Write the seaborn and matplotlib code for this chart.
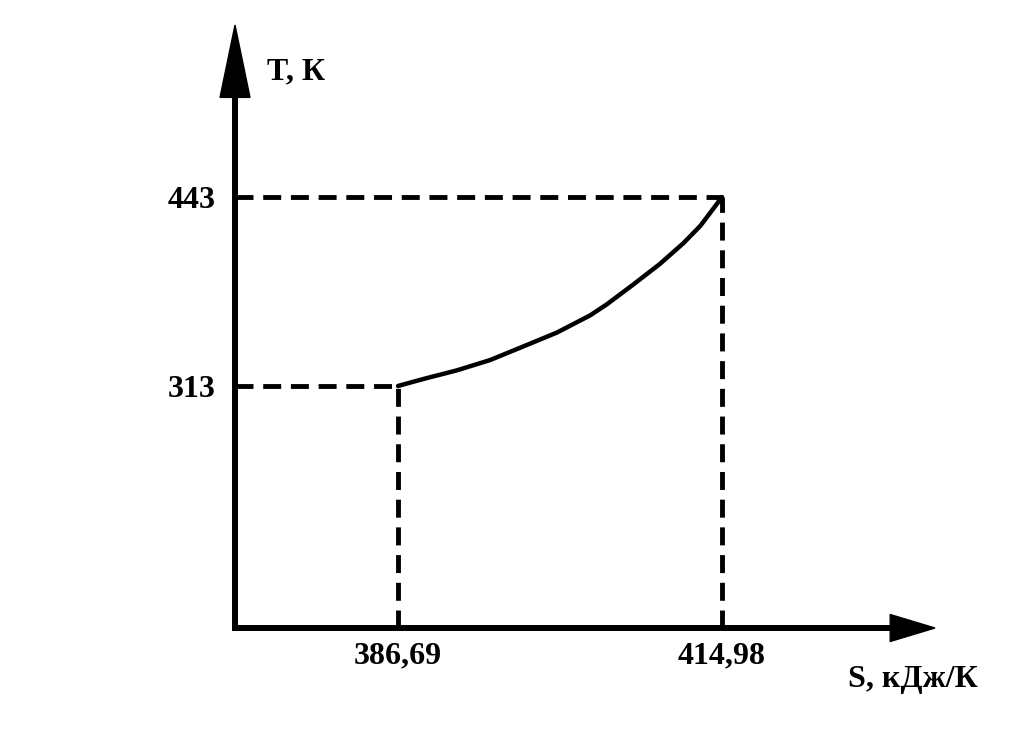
import matplotlib
matplotlib.use("Agg")
import matplotlib.pyplot as plt
import pandas as pd
import seaborn as sns

# process curve T(S)
s_values = [386.69, 388.90, 391.81, 394.72, 397.63, 400.55, 403.45,
            404.91, 407.23, 409.56, 411.60, 413.08, 414.22, 414.98]
t_values = [313.0, 317.8, 323.7, 330.8, 340.2, 349.7, 361.5,
            369.1, 382.8, 397.0, 411.2, 423.1, 435.0, 443.0]

x_ticks = [386.69, 414.98]
x_tick_labels = ["386,69", "414,98"]
y_ticks = [313, 443]
y_tick_labels = ["313", "443"]

x_label = "S, кДж/К"
y_label = "T, К"

sns.set_theme(style="white")
plt.rcParams["font.family"] = ["Liberation Serif", "DejaVu Serif"]
plt.rcParams["font.weight"] = "bold"
plt.rcParams["text.color"] = "black"

fig = plt.figure(figsize=(10.13, 7.34), dpi=100)
ax = fig.add_axes([0.2320, 0.1444, 0.6910, 0.8215])
ax.set_xlim(372.46, 433.57)
ax.set_ylim(146.5, 561.3)

df = pd.DataFrame({"S": s_values, "T": t_values})
sns.lineplot(data=df, x="S", y="T", ax=ax, color="black", linewidth=3.2,
             sort=False, estimator=None)

# dashed projections onto the axes
x0, y0 = ax.get_xlim()[0], ax.get_ylim()[0]
for sx, ty in zip(x_ticks, y_ticks):
    ax.plot([x0, sx], [ty, ty], color="black", lw=3.5, dashes=(3.7, 2.0))
    ax.plot([sx, sx], [y0, ty], color="black", lw=3.5, dashes=(3.7, 2.0))

# axes with arrow heads
for sp in ax.spines.values():
    sp.set_visible(False)
ax.plot([0, 0], [0, 0.885], transform=ax.transAxes, color="black", lw=4.3,
        clip_on=False, solid_capstyle="projecting")
ax.plot([0, 0.94], [0, 0], transform=ax.transAxes, color="black", lw=4.3,
        clip_on=False, solid_capstyle="projecting")
ax.fill([-0.0214, 0.0214, 0.0], [0.880, 0.880, 1.0], color="black",
        transform=ax.transAxes, clip_on=False)
ax.fill([0.936, 0.936, 1.0], [-0.0224, 0.0224, 0.0], color="black",
        transform=ax.transAxes, clip_on=False)

ax.set_xticks(x_ticks)
ax.set_xticklabels(x_tick_labels)
ax.set_yticks(y_ticks)
ax.set_yticklabels(y_tick_labels)
ax.tick_params(axis="both", length=0, labelsize=23, colors="black")
ax.tick_params(axis="x", pad=10)
ax.tick_params(axis="y", pad=14)
for lbl in ax.get_xticklabels() + ax.get_yticklabels():
    lbl.set_fontweight("bold")
ax.set_xlabel("")
ax.set_ylabel("")

ax.text(0.046, 0.922, y_label, transform=ax.transAxes, fontsize=23,
        fontweight="bold", ha="left", va="center", color="black")
ax.text(0.875, -0.085, x_label, transform=ax.transAxes, fontsize=23,
        fontweight="bold", ha="left", va="center", color="black")

fig.savefig("out.png", dpi=100, facecolor="white")
